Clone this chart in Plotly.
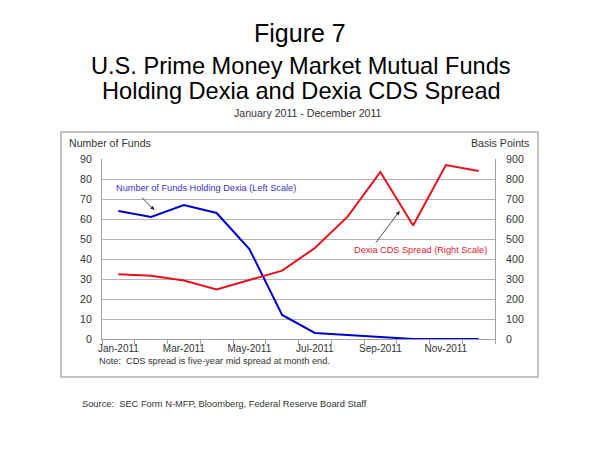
import plotly.graph_objects as go

months = ["Jan-2011", "Feb-2011", "Mar-2011", "Apr-2011", "May-2011", "Jun-2011",
          "Jul-2011", "Aug-2011", "Sep-2011", "Oct-2011", "Nov-2011", "Dec-2011"]
funds_holding = [64, 61, 67, 63, 45, 12, 3, 2, 1, 0, 0, 0]
cds_spread = [324, 316, 292, 248, 295, 342, 455, 612, 835, 568, 870, 840]
left_ticks = list(range(0, 91, 10))
right_ticks = list(range(0, 901, 100))

idx = list(range(len(months)))
label_idx = idx[::2]
label_txt = [months[i] for i in label_idx]

W, H = 600, 450
L, R, T, B = 102, 105, 159, 111
pw, ph = W - L - R, H - T - B


def px(x):
    return (x - L) / pw


def py(y):
    return (H - B - y) / ph


FONT = "Liberation Sans, Arial, sans-serif"
GRAY = "#333333"

fig = go.Figure()
fig.add_trace(go.Scatter(x=idx, y=funds_holding, mode="lines",
                         line=dict(color="#0000CC", width=2), yaxis="y",
                         name="Number of Funds Holding Dexia (Left Scale)"))
fig.add_trace(go.Scatter(x=idx, y=cds_spread, mode="lines",
                         line=dict(color="#E8101A", width=2), yaxis="y2",
                         name="Dexia CDS Spread (Right Scale)"))

ann = []
ann.append(dict(text="Figure 7", x=px(300), y=py(33), xref="paper", yref="paper",
                xanchor="center", yanchor="middle", showarrow=False,
                font=dict(size=25, color="black", family=FONT)))
ann.append(dict(text="U.S. Prime Money Market Mutual Funds", x=px(301), y=py(66),
                xref="paper", yref="paper", xanchor="center", yanchor="middle",
                showarrow=False, font=dict(size=23.6, color="black", family=FONT)))
ann.append(dict(text="Holding Dexia and Dexia CDS Spread", x=px(301), y=py(91),
                xref="paper", yref="paper", xanchor="center", yanchor="middle",
                showarrow=False, font=dict(size=23.6, color="black", family=FONT)))
ann.append(dict(text="January 2011 - December 2011", x=px(308), y=py(113),
                xref="paper", yref="paper", xanchor="center", yanchor="middle",
                showarrow=False, font=dict(size=10.6, color=GRAY, family=FONT)))
ann.append(dict(text="Number of Funds", x=px(67), y=py(143), xref="paper", yref="paper",
                xanchor="left", yanchor="middle", showarrow=False,
                font=dict(size=10.6, color=GRAY, family=FONT)))
ann.append(dict(text="Basis Points", x=px(531), y=py(143), xref="paper", yref="paper",
                xanchor="right", yanchor="middle", showarrow=False,
                font=dict(size=10.6, color=GRAY, family=FONT)))
ann.append(dict(text="Note:  CDS spread is five-year mid spread at month end.",
                x=px(97), y=py(361), xref="paper", yref="paper",
                xanchor="left", yanchor="middle", showarrow=False,
                font=dict(size=9.2, color=GRAY, family=FONT)))
ann.append(dict(text="Source:  SEC Form N-MFP, Bloomberg, Federal Reserve Board Staff",
                x=px(80), y=py(404), xref="paper", yref="paper",
                xanchor="left", yanchor="middle", showarrow=False,
                font=dict(size=9.3, color=GRAY, family=FONT)))
# series labels
ann.append(dict(text="Number of Funds Holding Dexia (Left Scale)", x=2.69, y=75.5,
                xref="x", yref="y", xanchor="center", yanchor="middle", showarrow=False,
                font=dict(size=9.2, color="#3333CC", family=FONT)))
ann.append(dict(text="Dexia CDS Spread (Right Scale)", x=9.24, y=445,
                xref="x", yref="y2", xanchor="center", yanchor="middle", showarrow=False,
                font=dict(size=9.2, color="#E02030", family=FONT)))
# arrows
ann.append(dict(text="", x=1.1, y=64.5, ax=0.67, ay=71.5, xref="x", yref="y",
                axref="x", ayref="y", showarrow=True, arrowhead=2, arrowsize=1,
                arrowwidth=0.8, arrowcolor="#222222"))
ann.append(dict(text="", x=8.59, y=640, ax=7.83, ay=475, xref="x", yref="y2",
                axref="x", ayref="y2", showarrow=True, arrowhead=2, arrowsize=1,
                arrowwidth=0.8, arrowcolor="#222222"))

fig.update_layout(
    width=W, height=H, margin=dict(l=L, r=R, t=T, b=B),
    paper_bgcolor="white", plot_bgcolor="white", showlegend=False,
    font=dict(family=FONT, size=11, color=GRAY),
    xaxis=dict(range=[-0.5, 11.5], tickvals=label_idx, ticktext=label_txt,
               ticks="", showgrid=False, zeroline=False, showline=True,
               linecolor="#A0A0A0", linewidth=1,
               tickfont=dict(size=10, color=GRAY),
               minor=dict(tick0=-0.5, dtick=1, ticks="outside", ticklen=4,
                          tickcolor="#A0A0A0", showgrid=False)),
    yaxis=dict(range=[0, 90], tickvals=left_ticks, showgrid=True, gridcolor="#B4B4B4",
               gridwidth=1, zeroline=False, showline=True, linecolor="#A0A0A0",
               ticks="", ticklabelstandoff=7, tickfont=dict(size=10.6, color=GRAY)),
    yaxis2=dict(range=[0, 900], tickvals=right_ticks, overlaying="y", side="right",
                showgrid=False, zeroline=False, showline=True, linecolor="#A0A0A0",
                ticks="", ticklabelstandoff=8, tickfont=dict(size=10.6, color=GRAY)),
    annotations=ann,
    shapes=[dict(type="rect", xref="paper", yref="paper",
                 x0=px(61), x1=px(538), y0=py(377), y1=py(132),
                 line=dict(color="#B0B0B0", width=1.5), fillcolor="rgba(0,0,0,0)",
                 layer="below")],
)

fig.write_html("out.html", config={"displayModeBar": False},
               post_script="document.body.style.margin='0';document.body.style.padding='0';")
